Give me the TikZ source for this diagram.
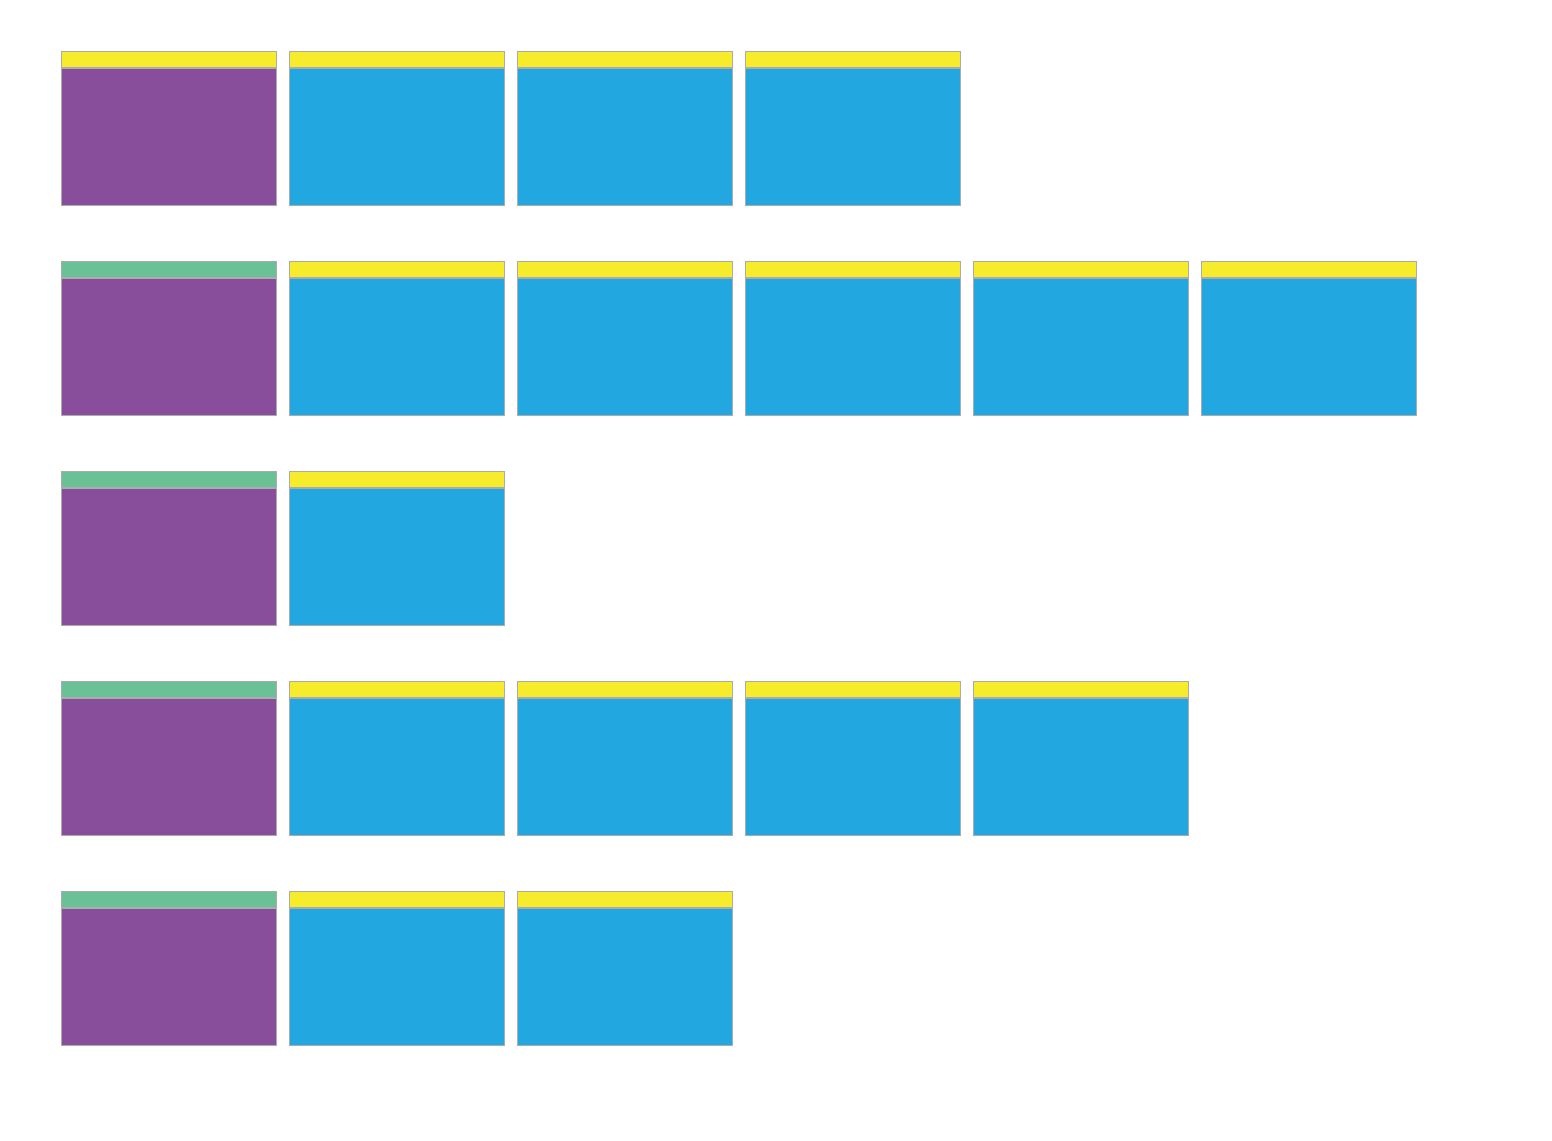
\documentclass[tikz,border=0pt]{standalone}
\usetikzlibrary{positioning}
\definecolor{plumC}{HTML}{884E9C}
\definecolor{skyC}{HTML}{22A7E0}
\definecolor{lemonC}{HTML}{F7EC2B}
\definecolor{mintC}{HTML}{6BC196}
\definecolor{rimC}{HTML}{ABABAB}
\tikzset{
  cardbody/.style={draw=rimC, line width=0.9pt, minimum width=215pt,
    minimum height=137pt, inner sep=0pt, anchor=north west},
  cardhead/.style={draw=rimC, line width=0.9pt, minimum width=215pt,
    minimum height=16pt, inner sep=0pt, anchor=south west}
}
\begin{document}
\begin{tikzpicture}[x=1pt, y=-1pt]
\useasboundingbox (0,0) rectangle (1552,1140);

% Rows: index / header colour of the lead card / number of blue cards.
\foreach \r/\hc/\n in {0/lemonC/3, 1/mintC/5, 2/mintC/1, 3/mintC/4, 4/mintC/2}{
  % Lead card.
  \node[cardbody, fill=plumC] (b\r-0) at (61,{68+210*\r}) {};
  \node[cardhead, fill=\hc] (h\r-0) at (b\r-0.north west) {};
  % Blue cards.
  \foreach \i in {1,...,\n}{
    \node[cardbody, fill=skyC] (b\r-\i) at ({61+228*\i},{68+210*\r}) {};
    \node[cardhead, fill=lemonC] (h\r-\i) at (b\r-\i.north west) {};
  }
}

\end{tikzpicture}
\end{document}
